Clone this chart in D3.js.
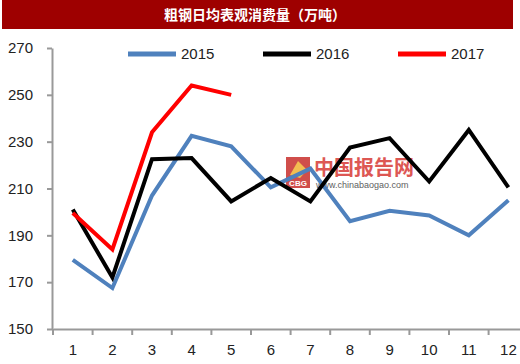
<!DOCTYPE html>
<html>
<head>
<meta charset="utf-8">
<script src="https://cdn.jsdelivr.net/npm/d3@7"></script>
<style>
  body { margin: 0; background: #fff; }
  svg { display: block; }
</style>
</head>
<body>
<div id="chart"></div>
<script>
// data
var months = ["1", "2", "3", "4", "5", "6", "7", "8", "9", "10", "11", "12"];
var yTicks = [150, 170, 190, 210, 230, 250, 270];
var v2015 = [179.5, 167.5, 207, 232.5, 228, 210.5, 218.5, 196, 200.5, 198.5, 190, 205];
var v2016 = [201, 172, 222.5, 223, 204.5, 214.5, 204.5, 227.5, 231.5, 213, 235, 210.5];
var v2017 = [199.5, 184, 234, 254, 250];
var seriesNames = ["2015", "2016", "2017"];
var seriesColors = ["#4f81bd", "#000000", "#ff0000"];

var W = 520, H = 364;
var svg = d3.select("#chart").append("svg")
    .attr("width", W)
    .attr("height", H);

// title bar
svg.append("rect")
    .attr("x", 2).attr("y", 0)
    .attr("width", 511).attr("height", 29)
    .attr("fill", "#9e0000");
svg.append("text")
    .attr("x", 255).attr("y", 20)
    .attr("text-anchor", "middle")
    .attr("fill", "#fff")
    .style("font-family", "'Noto Sans CJK SC', sans-serif")
    .style("font-size", "14px")
    .style("font-weight", "bold")
    .text("粗钢日均表观消费量（万吨）");

// scales
var x = d3.scaleBand()
    .domain(months)
    .range([53, 53 + 12 * 39.6]);
var y = d3.scaleLinear()
    .domain([150, 270])
    .range([329, 48]);

// watermark
var wm = svg.append("g").attr("opacity", 0.85);
wm.append("rect")
    .attr("x", 286).attr("y", 157).attr("width", 24).attr("height", 31)
    .attr("fill", "#c8302c");
wm.append("path")
    .attr("d", "M290,175 L298,161 L307,170 L300,178 Z")
    .attr("fill", "#f2b233");
wm.append("text")
    .attr("x", 298).attr("y", 186)
    .attr("text-anchor", "middle")
    .attr("fill", "#fff")
    .style("font-family", "'Liberation Sans', sans-serif")
    .style("font-size", "8px")
    .style("font-weight", "bold")
    .text("CBG");
wm.append("text")
    .attr("x", 314).attr("y", 175)
    .attr("fill", "#d83a36")
    .style("font-family", "'Noto Sans CJK SC', sans-serif")
    .style("font-size", "20px")
    .style("font-weight", "bold")
    .text("中国报告网");
wm.append("text")
    .attr("x", 316).attr("y", 188)
    .attr("fill", "#444")
    .style("font-family", "'Liberation Sans', sans-serif")
    .style("font-size", "9px")
    .text("www.chinabaogao.com");

// axes
var xAxis = svg.append("g")
    .attr("transform", "translate(0,329)")
    .call(d3.axisBottom(x).tickSize(0).tickPadding(15));
xAxis.select(".domain").attr("stroke", "#999").attr("stroke-width", 2);
xAxis.selectAll("text")
    .style("font-family", "'Liberation Sans', sans-serif")
    .style("font-size", "15px")
    .attr("fill", "#222");
// tick marks between categories
xAxis.selectAll(".sep")
    .data(months)
    .enter().append("line")
    .attr("class", "sep")
    .attr("x1", function(d) { return x(d); })
    .attr("x2", function(d) { return x(d); })
    .attr("y1", 0).attr("y2", 6)
    .attr("stroke", "#999").attr("stroke-width", 2);

var yAxis = svg.append("g")
    .attr("transform", "translate(52,0)")
    .call(d3.axisLeft(y).tickValues(yTicks).tickSize(5).tickSizeOuter(0).tickPadding(14));
yAxis.select(".domain").attr("stroke", "#999").attr("stroke-width", 2);
yAxis.selectAll(".tick line").attr("stroke", "#999").attr("stroke-width", 2);
yAxis.selectAll("text")
    .style("font-family", "'Liberation Sans', sans-serif")
    .style("font-size", "15px")
    .attr("fill", "#222");

// lines
var line = d3.line()
    .x(function(d, i) { return x(months[i]) + x.bandwidth() / 2; })
    .y(function(d) { return y(d); });

[v2015, v2016, v2017].forEach(function(vals, i) {
  svg.append("path")
      .datum(vals)
      .attr("fill", "none")
      .attr("stroke", seriesColors[i])
      .attr("stroke-width", 4)
      .attr("stroke-linejoin", "miter")
      .attr("d", line);
});

// legend
var legendX = [128, 263, 398];
seriesNames.forEach(function(name, i) {
  svg.append("line")
      .attr("x1", legendX[i]).attr("x2", legendX[i] + 48)
      .attr("y1", 54).attr("y2", 54)
      .attr("stroke", seriesColors[i])
      .attr("stroke-width", 5);
  svg.append("text")
      .attr("x", legendX[i] + 53).attr("y", 59)
      .style("font-family", "'Liberation Sans', sans-serif")
      .style("font-size", "15px")
      .attr("fill", "#222")
      .text(name);
});
</script>
</body>
</html>
